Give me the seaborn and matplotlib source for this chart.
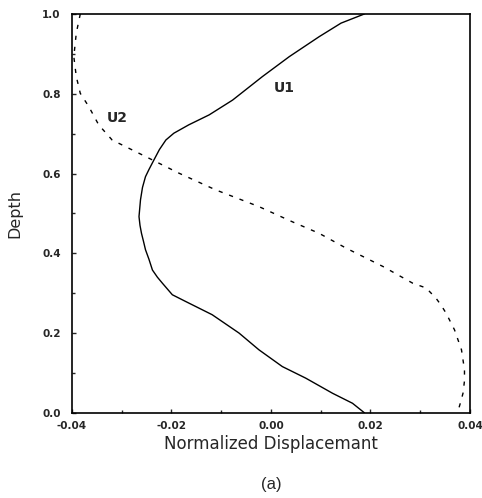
import matplotlib
matplotlib.use("Agg")
import matplotlib.pyplot as plt
import seaborn as sns
import pandas as pd
from matplotlib.ticker import MultipleLocator

# U1 (solid) values
u1_disp = [0.0188, 0.0141, 0.0097, 0.0037, -0.0017, -0.0077, -0.0124, -0.0165, -0.0195,
           -0.0211, -0.0224, -0.0235, -0.0245, -0.0252, -0.0258, -0.0262, -0.0265, -0.0263,
           -0.0260, -0.0256, -0.0252, -0.0245, -0.0238, -0.0228, -0.0218,
           -0.0198, -0.0171, -0.0118, -0.0064, -0.0024, 0.0023, 0.0070, 0.0124, 0.0164, 0.0188]
u1_depth = [1.0, 0.977, 0.943, 0.893, 0.843, 0.784, 0.747, 0.722, 0.701,
            0.684, 0.660, 0.634, 0.610, 0.592, 0.565, 0.534, 0.492, 0.470,
            0.450, 0.430, 0.409, 0.385, 0.358, 0.340, 0.325,
            0.296, 0.279, 0.246, 0.200, 0.158, 0.116, 0.087, 0.049, 0.024, 0.0]

# U2 (dashed) values
u2_disp = [-0.0383, -0.0391, -0.0396, -0.0391, -0.0383, -0.0366, -0.0346, -0.0319, -0.0259,
           -0.0185, -0.0111, -0.0024, 0.0043, 0.0097, 0.0151, 0.0225, 0.0285, 0.0312,
           0.0332, 0.0342, 0.0352, 0.0369, 0.0383, 0.0389, 0.0389, 0.0386, 0.0382, 0.0375]
u2_depth = [1.0, 0.952, 0.893, 0.843, 0.801, 0.768, 0.722, 0.684, 0.647,
            0.601, 0.559, 0.517, 0.479, 0.450, 0.413, 0.367, 0.325, 0.313,
            0.287, 0.270, 0.250, 0.208, 0.158, 0.108, 0.080, 0.049, 0.030, 0.0]

x_ticks = [-0.04, -0.02, 0.00, 0.02, 0.04]
x_labels = ["-0.04", "-0.02", "0.00", "0.02", "0.04"]
y_ticks = [0.0, 0.2, 0.4, 0.6, 0.8, 1.0]
y_labels = ["0.0", "0.2", "0.4", "0.6", "0.8", "1.0"]

sns.set_theme(style="ticks")
plt.rcParams['font.family'] = ['DejaVu Sans']

fig = plt.figure(figsize=(4.82, 4.98), dpi=100)
ax = fig.add_axes([0.149, 0.171, 0.826, 0.801])

df1 = pd.DataFrame({"disp": u1_disp, "depth": u1_depth})
df2 = pd.DataFrame({"disp": u2_disp, "depth": u2_depth})
sns.lineplot(data=df1, x="disp", y="depth", sort=False, estimator=None,
             color="black", linewidth=1.0, ax=ax)
sns.lineplot(data=df2, x="disp", y="depth", sort=False, estimator=None,
             color="black", linewidth=1.0, linestyle=(0, (3, 5)), ax=ax)

ax.set_xlim(-0.04, 0.04)
ax.set_ylim(0.0, 1.0)
ax.set_xticks(x_ticks)
ax.set_xticklabels(x_labels, fontsize=7.5, fontweight="bold")
ax.set_yticks(y_ticks)
ax.set_yticklabels(y_labels, fontsize=7.5, fontweight="bold")
ax.xaxis.set_minor_locator(MultipleLocator(0.01))
ax.yaxis.set_minor_locator(MultipleLocator(0.1))
ax.tick_params(which="both", direction="in", length=3, width=1.0)
ax.tick_params(which="minor", length=2)
ax.tick_params(axis="y", which="major", pad=8)
ax.tick_params(axis="x", which="major", pad=6)
for s in ax.spines.values():
    s.set_linewidth(1.2)
    s.set_color("black")

ax.set_xlabel("Normalized Displacemant", fontsize=12, labelpad=3)
ax.set_ylabel("Depth", fontsize=11.5, labelpad=14)

ax.text(0.0026, 0.815, "U1", fontsize=10, fontweight="bold", ha="center", va="center")
ax.text(-0.0308, 0.738, "U2", fontsize=10, fontweight="bold", ha="center", va="center")

fig.text(0.5 * (0.149 + 0.975), 0.028, "(a)", fontsize=12, ha="center", va="center",
         family=["Liberation Sans"])

fig.savefig("out.png", dpi=100, facecolor="white")
